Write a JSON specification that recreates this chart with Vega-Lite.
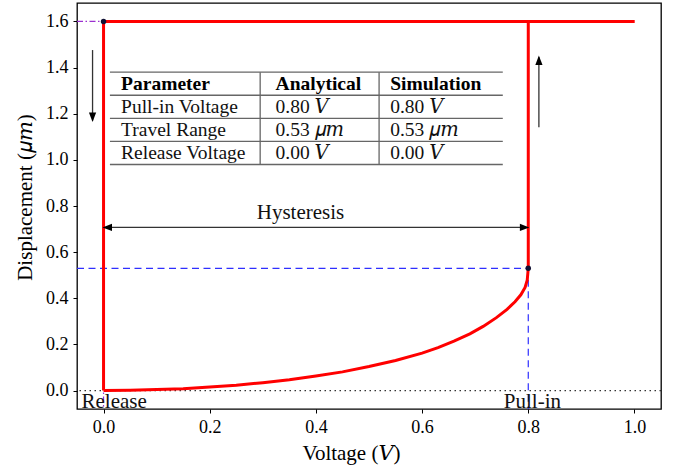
{
  "$schema": "https://vega.github.io/schema/vega-lite/v6.json",
  "width": 584,
  "height": 406,
  "autosize": {"type": "none"},
  "padding": {"left": 77, "top": 3, "right": 14, "bottom": 61},
  "background": "white",
  "config": {
    "view": {"stroke": "black", "strokeWidth": 1.3},
    "font": "Liberation Serif, DejaVu Serif, serif",
    "axis": {
      "domain": false,
      "grid": false,
      "ticks": true,
      "tickColor": "black",
      "tickSize": 4,
      "tickWidth": 1,
      "labelFont": "Liberation Serif",
      "labelFontSize": 18,
      "labelColor": "black",
      "labelPadding": 5,
      "titleFont": "Liberation Serif, DejaVu Serif, serif",
      "titleFontSize": 21,
      "titleFontWeight": "normal",
      "titleColor": "black"
    }
  },
  "datasets": {
    "curve": [
      {"V": 0.0, "d": 0.0, "branch": "load", "step": 0},
      {"V": 0.05, "d": 0.001, "branch": "load", "step": 1},
      {"V": 0.1, "d": 0.004, "branch": "load", "step": 2},
      {"V": 0.15, "d": 0.008, "branch": "load", "step": 3},
      {"V": 0.2, "d": 0.015, "branch": "load", "step": 4},
      {"V": 0.25, "d": 0.023, "branch": "load", "step": 5},
      {"V": 0.3, "d": 0.034, "branch": "load", "step": 6},
      {"V": 0.35, "d": 0.047, "branch": "load", "step": 7},
      {"V": 0.4, "d": 0.063, "branch": "load", "step": 8},
      {"V": 0.45, "d": 0.081, "branch": "load", "step": 9},
      {"V": 0.5, "d": 0.104, "branch": "load", "step": 10},
      {"V": 0.55, "d": 0.13, "branch": "load", "step": 11},
      {"V": 0.6, "d": 0.162, "branch": "load", "step": 12},
      {"V": 0.63, "d": 0.186, "branch": "load", "step": 13},
      {"V": 0.66, "d": 0.214, "branch": "load", "step": 14},
      {"V": 0.69, "d": 0.246, "branch": "load", "step": 15},
      {"V": 0.715, "d": 0.278, "branch": "load", "step": 16},
      {"V": 0.74, "d": 0.316, "branch": "load", "step": 17},
      {"V": 0.76, "d": 0.352, "branch": "load", "step": 18},
      {"V": 0.775, "d": 0.385, "branch": "load", "step": 19},
      {"V": 0.786, "d": 0.415, "branch": "load", "step": 20},
      {"V": 0.794, "d": 0.447, "branch": "load", "step": 21},
      {"V": 0.798, "d": 0.478, "branch": "load", "step": 22},
      {"V": 0.8, "d": 0.53, "branch": "load", "step": 23},
      {"V": 0.8, "d": 1.6, "branch": "load", "step": 24},
      {"V": 1.0, "d": 1.6, "branch": "load", "step": 25},
      {"V": 1.0, "d": 1.6, "branch": "unload", "step": 0},
      {"V": 0.0, "d": 1.6, "branch": "unload", "step": 1},
      {"V": 0.0, "d": 0.0, "branch": "unload", "step": 2}
    ],
    "guides": [
      {"x": -0.05, "x2": 0.0, "y": 1.6, "y2": 1.6, "kind": "release"},
      {"x": 0.0, "x2": 0.0, "y": 1.6, "y2": -0.08, "kind": "release"},
      {"x": -0.05, "x2": 0.8, "y": 0.53, "y2": 0.53, "kind": "pullin"},
      {"x": 0.8, "x2": 0.8, "y": 0.53, "y2": -0.08, "kind": "pullin"}
    ],
    "keyPoints": [
      {"V": 0.0, "d": 1.6},
      {"V": 0.8, "d": 0.53}
    ],
    "tableRules": [
      {"x": 0.012, "x2": 0.752, "y": 1.38, "y2": 1.38},
      {"x": 0.012, "x2": 0.752, "y": 1.28, "y2": 1.28},
      {"x": 0.012, "x2": 0.752, "y": 1.18, "y2": 1.18},
      {"x": 0.012, "x2": 0.752, "y": 1.08, "y2": 1.08},
      {"x": 0.012, "x2": 0.752, "y": 0.98, "y2": 0.98},
      {"x": 0.295, "x2": 0.295, "y": 1.38, "y2": 0.98},
      {"x": 0.519, "x2": 0.519, "y": 1.38, "y2": 0.98}
    ],
    "tableHead": [
      {"x": 0.033, "y": 1.33, "label": "Parameter"},
      {"x": 0.324, "y": 1.33, "label": "Analytical"},
      {"x": 0.54, "y": 1.33, "label": "Simulation"}
    ],
    "tableBody": [
      {"x": 0.033, "y": 1.23, "label": "Pull-in Voltage"},
      {"x": 0.324, "y": 1.23, "label": "0.80 𝑉"},
      {"x": 0.54, "y": 1.23, "label": "0.80 𝑉"},
      {"x": 0.033, "y": 1.13, "label": "Travel Range"},
      {"x": 0.324, "y": 1.13, "label": "0.53 𝜇𝑚"},
      {"x": 0.54, "y": 1.13, "label": "0.53 𝜇𝑚"},
      {"x": 0.033, "y": 1.03, "label": "Release Voltage"},
      {"x": 0.324, "y": 1.03, "label": "0.00 𝑉"},
      {"x": 0.54, "y": 1.03, "label": "0.00 𝑉"}
    ],
    "arrowShafts": [
      {"x": -0.0207, "x2": -0.0207, "y": 1.476, "y2": 1.17},
      {"x": 0.82, "x2": 0.82, "y": 1.141, "y2": 1.445},
      {"x": 0.005, "x2": 0.795, "y": 0.707, "y2": 0.707}
    ],
    "arrowHeads": [
      {"x": -0.0207, "y": 1.164, "dir": "down"},
      {"x": 0.82, "y": 1.452, "dir": "up"},
      {"x": -0.002, "y": 0.707, "dir": "left"},
      {"x": 0.802, "y": 0.707, "dir": "right"}
    ],
    "notes": [
      {"x": 0.371, "y": 0.771, "label": "Hysteresis", "align": "center"},
      {"x": -0.0415, "y": -0.075, "label": "Release", "align": "left"},
      {"x": 0.754, "y": -0.075, "label": "Pull-in", "align": "left"}
    ]
  },
  "encoding": {
    "x": {
      "type": "quantitative",
      "scale": {"domain": [-0.05, 1.05], "nice": false, "zero": false}
    },
    "y": {
      "type": "quantitative",
      "scale": {"domain": [-0.08, 1.68], "nice": false, "zero": false}
    }
  },
  "layer": [
    {
      "data": {"values": [{"y": 0}]},
      "mark": {"type": "rule", "color": "#333333", "strokeWidth": 1.2, "strokeDash": [1.5, 3.5]},
      "encoding": {"y": {"field": "y", "type": "quantitative"}}
    },
    {
      "data": {"name": "guides"},
      "mark": {"type": "rule", "strokeWidth": 1.2},
      "encoding": {
        "x": {"field": "x", "type": "quantitative", "axis": {"values": [0, 0.2, 0.4, 0.6, 0.8, 1.0], "format": ".1f", "title": "Voltage (𝑉)", "titleX": 274, "titlePadding": 6}},
        "x2": {"field": "x2"},
        "y": {"field": "y", "type": "quantitative", "axis": {"values": [0, 0.2, 0.4, 0.6, 0.8, 1.0, 1.2, 1.4, 1.6], "format": ".1f", "title": "Displacement (𝜇𝑚)", "titleY": 194, "titlePadding": 10}},
        "y2": {"field": "y2"},
        "color": {"field": "kind", "type": "nominal", "scale": {"domain": ["release", "pullin"], "range": ["#9b30d0", "#2f2fff"]}, "legend": null},
        "strokeDash": {"field": "kind", "type": "nominal", "scale": {"domain": ["release", "pullin"], "range": [[6, 2.5, 1.5, 2.5], [7, 4.5]]}, "legend": null}
      }
    },
    {
      "data": {"name": "tableRules"},
      "mark": {"type": "rule", "color": "#666666", "strokeWidth": 1.3},
      "encoding": {
        "x": {"field": "x", "type": "quantitative"},
        "x2": {"field": "x2"},
        "y": {"field": "y", "type": "quantitative"},
        "y2": {"field": "y2"}
      }
    },
    {
      "data": {"name": "curve"},
      "mark": {"type": "line", "color": "#ff0000", "strokeWidth": 3, "strokeJoin": "miter"},
      "encoding": {
        "x": {"field": "V", "type": "quantitative"},
        "y": {"field": "d", "type": "quantitative"},
        "detail": {"field": "branch"},
        "order": {"field": "step", "type": "quantitative"}
      }
    },
    {
      "data": {"name": "keyPoints"},
      "mark": {"type": "point", "filled": true, "color": "#111133", "size": 30, "opacity": 1},
      "encoding": {
        "x": {"field": "V", "type": "quantitative"},
        "y": {"field": "d", "type": "quantitative"}
      }
    },
    {
      "data": {"name": "arrowShafts"},
      "mark": {"type": "rule", "color": "#333333", "strokeWidth": 1.3},
      "encoding": {
        "x": {"field": "x", "type": "quantitative"},
        "x2": {"field": "x2"},
        "y": {"field": "y", "type": "quantitative"},
        "y2": {"field": "y2"}
      }
    },
    {
      "data": {"name": "arrowHeads"},
      "mark": {"type": "point", "filled": true, "color": "black", "size": 360, "opacity": 1},
      "encoding": {
        "x": {"field": "x", "type": "quantitative"},
        "y": {"field": "y", "type": "quantitative"},
        "shape": {
          "field": "dir",
          "type": "nominal",
          "scale": {
            "domain": ["left", "right", "down", "up"],
            "range": ["M0,0L1,-0.38L1,0.38Z", "M0,0L-1,-0.38L-1,0.38Z", "M0,0L-0.38,-1L0.38,-1Z", "M0,0L-0.38,1L0.38,1Z"]
          },
          "legend": null
        }
      }
    },
    {
      "data": {"name": "tableHead"},
      "mark": {"type": "text", "align": "left", "baseline": "middle", "fontSize": 19.5, "fontWeight": "bold", "color": "black"},
      "encoding": {
        "x": {"field": "x", "type": "quantitative"},
        "y": {"field": "y", "type": "quantitative"},
        "text": {"field": "label"}
      }
    },
    {
      "data": {"name": "tableBody"},
      "mark": {"type": "text", "align": "left", "baseline": "middle", "fontSize": 19.5, "color": "#111111"},
      "encoding": {
        "x": {"field": "x", "type": "quantitative"},
        "y": {"field": "y", "type": "quantitative"},
        "text": {"field": "label"}
      }
    },
    {
      "data": {"name": "notes"},
      "transform": [{"filter": "datum.align === 'center'"}],
      "mark": {"type": "text", "align": "center", "baseline": "middle", "fontSize": 21, "color": "#111111"},
      "encoding": {
        "x": {"field": "x", "type": "quantitative"},
        "y": {"field": "y", "type": "quantitative"},
        "text": {"field": "label"}
      }
    },
    {
      "data": {"name": "notes"},
      "transform": [{"filter": "datum.align === 'left'"}],
      "mark": {"type": "text", "align": "left", "baseline": "alphabetic", "fontSize": 21, "color": "#111111"},
      "encoding": {
        "x": {"field": "x", "type": "quantitative"},
        "y": {"field": "y", "type": "quantitative"},
        "text": {"field": "label"}
      }
    }
  ]
}
